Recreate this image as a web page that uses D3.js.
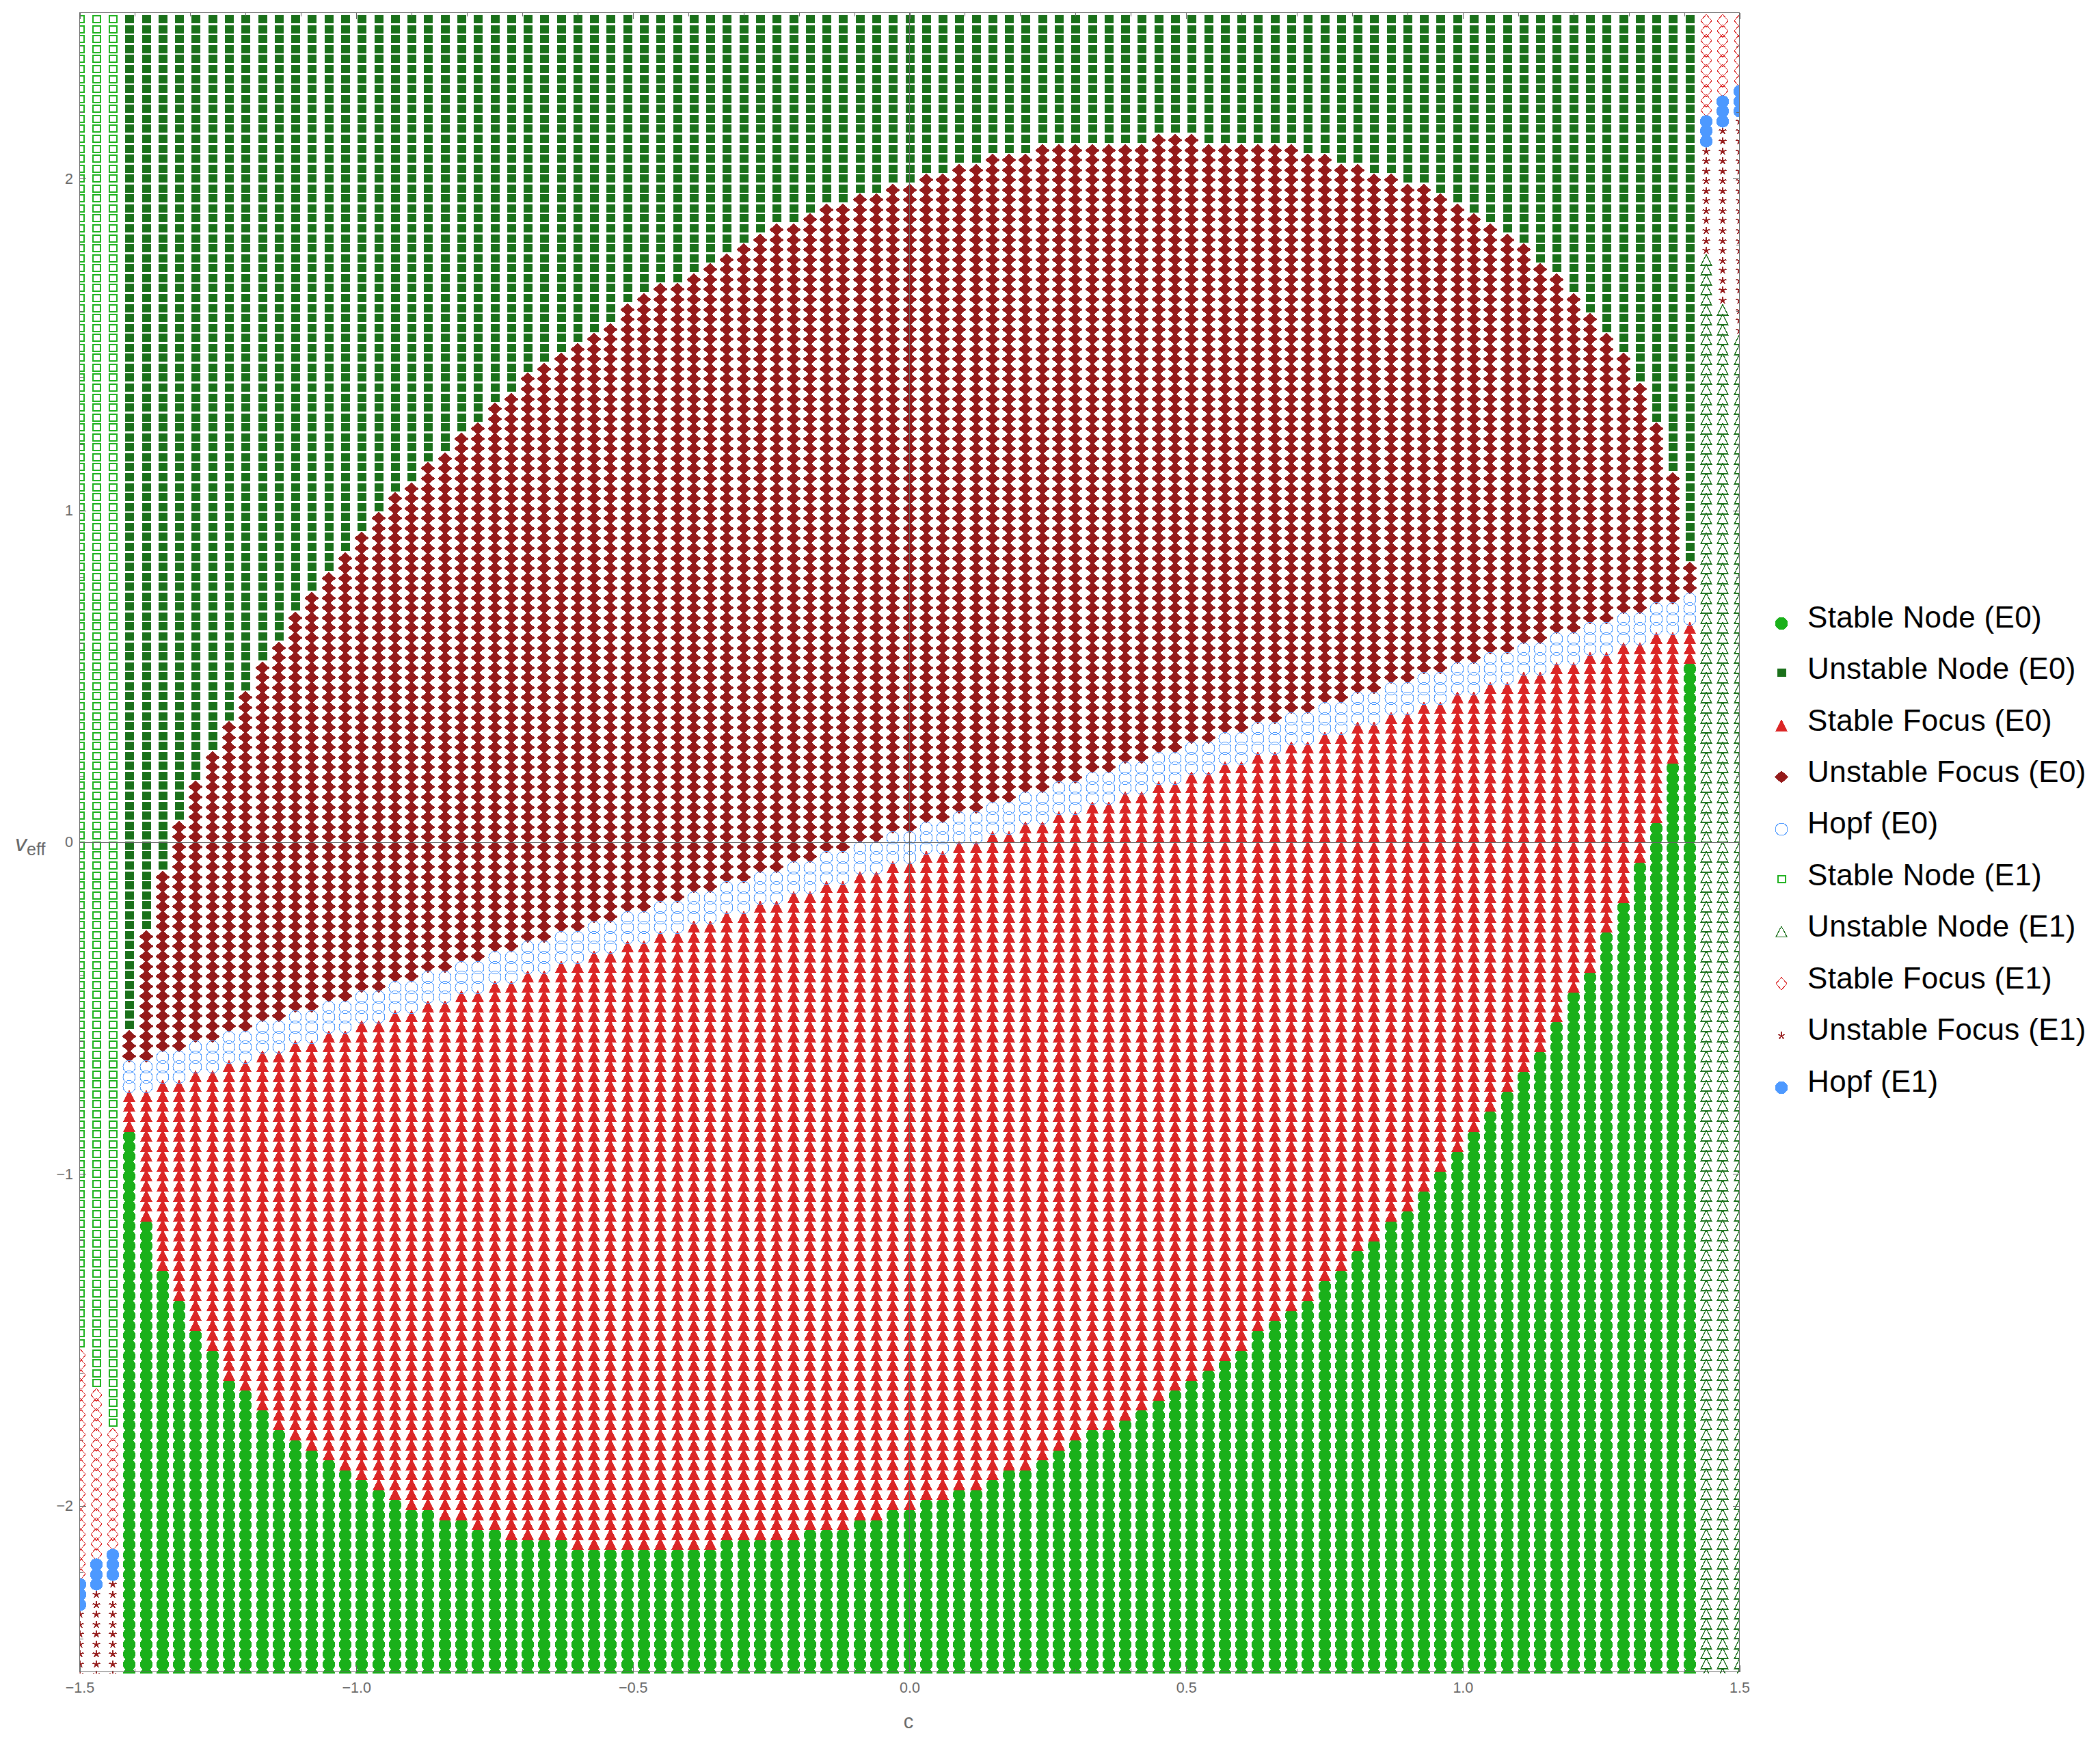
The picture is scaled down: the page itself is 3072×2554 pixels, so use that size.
<!DOCTYPE html>
<html><head><meta charset="utf-8">
<script src="https://cdn.jsdelivr.net/npm/d3@7"></script>
<style>html,body{margin:0;padding:0;background:#fff}svg{display:block}</style>
</head><body><div id="chart"></div>
<script>
// sweep values of c (columns)
const cGrid=[-1.5,-1.47,-1.44,-1.41,-1.38,-1.35,-1.32,-1.29,-1.26,-1.23,-1.2,-1.17,-1.14,-1.11,-1.08,-1.05,-1.02,-0.99,-0.96,-0.93,-0.9,-0.87,-0.84,-0.81,-0.78,-0.75,-0.72,-0.69,-0.66,-0.63,-0.6,-0.57,-0.54,-0.51,-0.48,-0.45,-0.42,-0.39,-0.36,-0.33,-0.3,-0.27,-0.24,-0.21,-0.18,-0.15,-0.12,-0.09,-0.06,-0.03,0,0.03,0.06,0.09,0.12,0.15,0.18,0.21,0.24,0.27,0.3,0.33,0.36,0.39,0.42,0.45,0.48,0.51,0.54,0.57,0.6,0.63,0.66,0.69,0.72,0.75,0.78,0.81,0.84,0.87,0.9,0.93,0.96,0.99,1.02,1.05,1.08,1.11,1.14,1.17,1.2,1.23,1.26,1.29,1.32,1.35,1.38,1.41,1.44,1.47,1.5];
// sweep values of v_eff (rows)
const vGrid=[-2.5,-2.47,-2.44,-2.41,-2.38,-2.35,-2.32,-2.29,-2.26,-2.23,-2.2,-2.17,-2.14,-2.11,-2.08,-2.05,-2.02,-1.99,-1.96,-1.93,-1.9,-1.87,-1.84,-1.81,-1.78,-1.75,-1.72,-1.69,-1.66,-1.63,-1.6,-1.57,-1.54,-1.51,-1.48,-1.45,-1.42,-1.39,-1.36,-1.33,-1.3,-1.27,-1.24,-1.21,-1.18,-1.15,-1.12,-1.09,-1.06,-1.03,-1,-0.97,-0.94,-0.91,-0.88,-0.85,-0.82,-0.79,-0.76,-0.73,-0.7,-0.67,-0.64,-0.61,-0.58,-0.55,-0.52,-0.49,-0.46,-0.43,-0.4,-0.37,-0.34,-0.31,-0.28,-0.25,-0.22,-0.19,-0.16,-0.13,-0.1,-0.07,-0.04,-0.01,0.02,0.05,0.08,0.11,0.14,0.17,0.2,0.23,0.26,0.29,0.32,0.35,0.38,0.41,0.44,0.47,0.5,0.53,0.56,0.59,0.62,0.65,0.68,0.71,0.74,0.77,0.8,0.83,0.86,0.89,0.92,0.95,0.98,1.01,1.04,1.07,1.1,1.13,1.16,1.19,1.22,1.25,1.28,1.31,1.34,1.37,1.4,1.43,1.46,1.49,1.52,1.55,1.58,1.61,1.64,1.67,1.7,1.73,1.76,1.79,1.82,1.85,1.88,1.91,1.94,1.97,2,2.03,2.06,2.09,2.12,2.15,2.18,2.21,2.24,2.27,2.3,2.33,2.36,2.39,2.42,2.45,2.48];

// E0 columns run from c=-1.41 to c=1.41 (grid indices 3..97). Region edges, as row indices into vGrid:
const stableFocusBottom=[55,46,41,38,35,33,30,29,27,25,24,23,22,21,20,19,18,17,17,16,16,15,15,14,14,14,14,13,13,13,13,13,13,13,13,13,14,14,14,14,14,15,15,15,16,16,17,17,18,18,19,19,20,21,21,22,23,24,25,25,26,27,28,29,30,31,32,33,35,36,37,38,40,41,43,44,46,47,49,51,53,55,57,59,61,63,66,69,71,75,78,82,86,92,102];
const hopfTop=[61,61,62,62,63,63,64,64,65,65,66,66,67,67,68,68,69,69,70,70,71,71,72,72,73,73,74,74,75,75,76,76,77,77,78,78,79,79,80,80,81,81,82,82,83,83,84,84,85,85,86,86,87,87,88,88,89,89,90,90,91,91,92,92,93,93,94,94,95,95,96,96,97,97,98,98,99,99,100,100,101,101,102,102,103,103,104,104,105,105,106,106,107,107,108];
const unstableFocusTop=[64,74,80,85,89,92,95,98,101,103,106,108,110,112,114,116,118,119,121,122,124,125,127,128,130,131,132,133,134,135,137,138,139,139,140,141,142,143,144,145,145,146,147,147,148,148,149,149,150,150,151,151,152,152,152,153,153,153,153,153,153,153,154,154,154,153,153,153,153,153,153,152,152,151,151,150,150,149,149,148,147,146,145,144,143,141,140,138,136,134,132,129,125,120,111];

// E1 columns (grid indices 0,1,2 on the left; 98,99,100 on the right)
const e1LeftCols=[0,1,2];
const e1LeftHopfBottom=[7,9,10];
const e1LeftFocusTop=[32,28,24];
const e1RightCols=[98,99,100];
const e1RightHopfBottom=[154,156,157];
const e1RightStarBottom=[143,138,135];

const seriesNames=["Stable Node (E0)","Unstable Node (E0)","Stable Focus (E0)","Unstable Focus (E0)","Hopf (E0)","Stable Node (E1)","Unstable Node (E1)","Stable Focus (E1)","Unstable Focus (E1)","Hopf (E1)"];
const xMajor=[-1.5,-1,-0.5,0,0.5,1,1.5];
const xMajorLabels=["−1.5","−1.0","−0.5","0.0","0.5","1.0","1.5"];
const xMinor=[-1.4,-1.3,-1.2,-1.1,-0.9,-0.8,-0.7,-0.6,-0.4,-0.3,-0.2,-0.1,0.1,0.2,0.3,0.4,0.6,0.7,0.8,0.9,1.1,1.2,1.3,1.4];
const yMajor=[-2,-1,0,1,2];
const yMajorLabels=["−2","−1","0","1","2"];
const yMinor=[-2.4,-2.2,-1.8,-1.6,-1.4,-1.2,-0.8,-0.6,-0.4,-0.2,0.2,0.4,0.6,0.8,1.2,1.4,1.6,1.8,2.2,2.4];

const W=3072,H=2554;
const xScale=d3.scaleLinear().domain([-1.5,1.5]).range([116.5,2544.5]);
const yScale=d3.scaleLinear().domain([-2.5,2.5]).range([2445.5,18.5]);

const GREEN="rgb(26,176,26)",DGREEN="rgb(26,112,26)",RED="rgb(219,38,38)",DRED="rgb(148,26,26)",BLUE="rgb(77,153,255)";
const circle=(cy,r)=>{const p=d3.path();p.arc(0,cy,r,0,2*Math.PI);p.closePath();return p.toString();};
const poly=pp=>d3.line()(pp)+"Z";
const starPath=(()=>{const p=d3.path();[-90,-18,54,126,198].forEach(a=>{p.moveTo(0,3.5);p.lineTo(5.6*Math.cos(a*Math.PI/180),3.5+5.6*Math.sin(a*Math.PI/180));});return p.toString();})();
const styles=[
 {d:circle(3.5,9.4),fill:GREEN,stroke:"none",sw:0},
 {d:poly([[-6.5,-6],[6.5,-6],[6.5,6],[-6.5,6]]),fill:DGREEN,stroke:"none",sw:0},
 {d:poly([[0,-6.7],[8.7,10.8],[-8.7,10.8]]),fill:RED,stroke:"none",sw:0},
 {d:poly([[0,-7.2],[10.3,2],[0,11.2],[-10.3,2]]),fill:DRED,stroke:"none",sw:0},
 {d:circle(3.5,9),fill:"none",stroke:BLUE,sw:1},
 {d:poly([[-5.5,-5],[5.5,-5],[5.5,5],[-5.5,5]]),fill:"none",stroke:GREEN,sw:2},
 {d:poly([[0,-5.6],[7.9,10],[-7.9,10]]),fill:"none",stroke:DGREEN,sw:1.2},
 {d:poly([[0,-6.9],[8,2.3],[0,11.5],[-8,2.3]]),fill:"none",stroke:RED,sw:1},
 {d:starPath,fill:"none",stroke:DRED,sw:1.8},
 {d:circle(3.5,9.2),fill:BLUE,stroke:"none",sw:0}
];

// classify grid points into the ten series
const seriesPoints=styles.map(()=>[]);
const add=(t,ci,r0,r1)=>{for(let r=r0;r<=r1;r++)seriesPoints[t].push({c:cGrid[ci],v:vGrid[r]});};
const topRow=vGrid.length-1;
stableFocusBottom.forEach((b,k)=>{const i=k+3,h=hopfTop[k],u=unstableFocusTop[k];
  add(0,i,0,b-1);add(2,i,b,h-3);add(4,i,h-2,h);add(3,i,h+1,u);add(1,i,u+1,topRow);});
e1LeftCols.forEach((i,k)=>{const hb=e1LeftHopfBottom[k],ft=e1LeftFocusTop[k];
  add(8,i,0,hb-1);add(9,i,hb,hb+2);add(7,i,hb+3,ft);add(5,i,ft+1,topRow);});
e1RightCols.forEach((i,k)=>{const hb=e1RightHopfBottom[k],sb=e1RightStarBottom[k];
  add(6,i,0,sb-1);add(8,i,sb,hb-1);add(9,i,hb,hb+2);add(7,i,hb+3,topRow);});

const svg=d3.select("#chart").append("svg").attr("width",W).attr("height",H).attr("viewBox",`0 0 ${W} ${H}`)
  .style("font-family","'Liberation Sans',Arial,sans-serif");
svg.append("defs").append("clipPath").attr("id","plot").append("rect").attr("x",116.5).attr("y",0).attr("width",2428).attr("height",2448);

const gM=svg.append("g").attr("clip-path","url(#plot)").attr("shape-rendering","crispEdges");
styles.forEach((s,t)=>{
  gM.append("g").attr("fill",s.fill).attr("stroke",s.stroke).attr("stroke-width",s.sw)
    .selectAll("path").data(seriesPoints[t]).join("path").attr("d",s.d)
    .attr("transform",d=>`translate(${Math.round(xScale(d.c))},${Math.round(yScale(d.v))})`);
});

// frame, origin axes and ticks
const AX="#666";
const gA=svg.append("g").attr("shape-rendering","crispEdges");
gA.append("line").attr("x1",xScale(-1.5)).attr("x2",xScale(1.5)).attr("y1",yScale(0)).attr("y2",yScale(0)).attr("stroke",AX);
gA.append("line").attr("y1",yScale(-2.5)).attr("y2",yScale(2.5)).attr("x1",xScale(0)).attr("x2",xScale(0)).attr("stroke",AX);
gA.append("rect").attr("x",xScale(-1.5)).attr("y",yScale(2.5)).attr("width",xScale(1.5)-xScale(-1.5)).attr("height",yScale(-2.5)-yScale(2.5)).attr("fill","none").attr("stroke",AX);

function put(axis,tx,ty){
  const g=gA.append("g").attr("transform",`translate(${tx},${ty})`).call(axis);
  g.select(".domain").remove();
  g.attr("color",AX).attr("font-family","'Liberation Sans',Arial,sans-serif").attr("font-size",21.5);
  return g;
}
const xb=yScale(-2.5),xt=yScale(2.5),yl=xScale(-1.5),yr=xScale(1.5);
put(d3.axisBottom(xScale).tickValues(xMinor).tickSize(-5).tickFormat(""),0,xb);
put(d3.axisTop(xScale).tickValues(xMinor).tickSize(-5).tickFormat(""),0,xt);
put(d3.axisLeft(yScale).tickValues(yMinor).tickSize(-5).tickFormat(""),yl,0);
put(d3.axisRight(yScale).tickValues(yMinor).tickSize(-5).tickFormat(""),yr,0);
put(d3.axisBottom(xScale).tickValues(xMajor).tickSize(-9.5).tickPadding(15).tickFormat((d,i)=>xMajorLabels[i]),0,xb);
put(d3.axisTop(xScale).tickValues(xMajor).tickSize(-9.5).tickFormat(""),0,xt);
put(d3.axisLeft(yScale).tickValues(yMajor).tickSize(-9.5).tickPadding(9.5).tickFormat((d,i)=>yMajorLabels[i]),yl,0);
put(d3.axisRight(yScale).tickValues(yMajor).tickSize(-9.5).tickFormat(""),yr,0);

// axis titles
svg.append("text").attr("x",1329).attr("y",2528).attr("text-anchor","middle").attr("font-size",29).attr("fill",AX).text("c");
const vt=svg.append("text").attr("x",22).attr("y",1245).attr("fill",AX).attr("font-size",34);
vt.append("tspan").attr("font-style","italic").text("v");
vt.append("tspan").attr("font-size",25).attr("dy",6).text("eff");

// legend
const legendBase=[917,992,1067.5,1143,1218,1294,1369,1445,1520,1596];
const gL=svg.append("g");
seriesNames.forEach((n,i)=>{
  const s=styles[i];
  gL.append("path").attr("d",s.d).attr("fill",s.fill).attr("stroke",s.stroke).attr("stroke-width",s.sw)
    .attr("shape-rendering","crispEdges").attr("transform",`translate(2606,${legendBase[i]-8.5})`);
  gL.append("text").attr("x",2644).attr("y",legendBase[i]+1).attr("font-size",44).attr("letter-spacing",0.35).attr("fill","#000").text(n);
});
</script></body></html>
